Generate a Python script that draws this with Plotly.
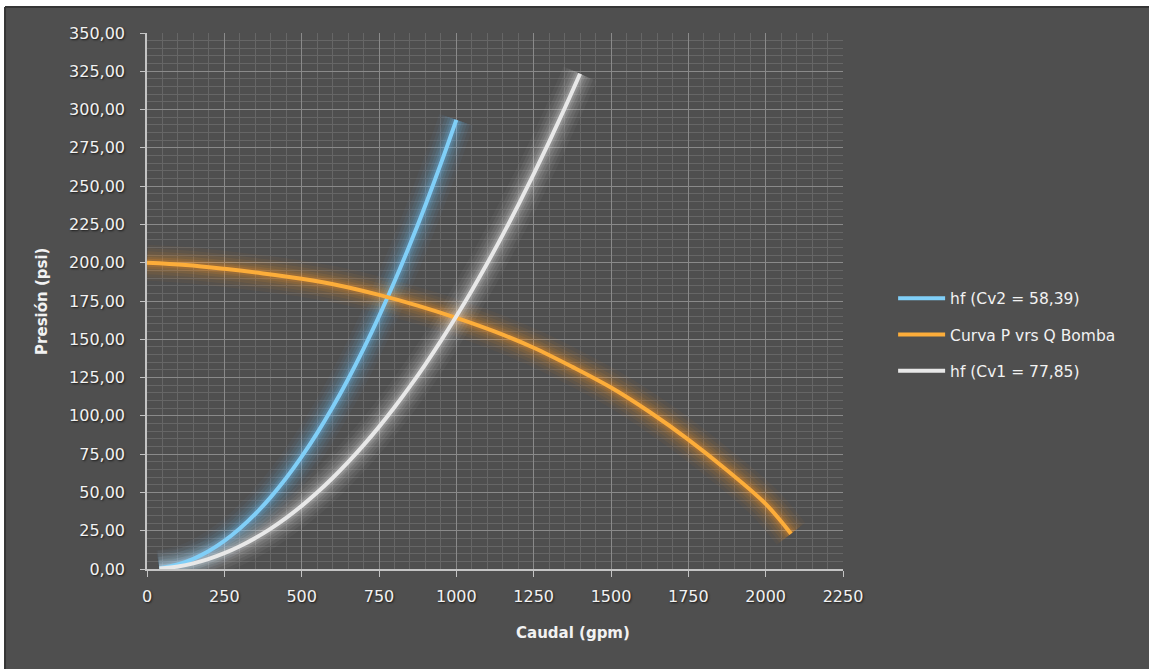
import plotly.graph_objects as go

# Data
q_cv2 = [40, 100, 150, 200, 250, 300, 350, 400, 450, 500, 550, 600, 650, 700, 750, 800, 850, 900, 950, 1000]
hf_cv2 = [0.47, 2.93, 6.60, 11.73, 18.33, 26.40, 35.93, 46.93, 59.40, 73.33, 88.72, 105.59, 123.92,
          143.72, 164.98, 187.71, 211.91, 237.58, 264.71, 293.31]

q_pump = [0, 125, 250, 375, 500, 625, 750, 875, 1000, 1125, 1250, 1375, 1500, 1625, 1750, 1875, 2000, 2082]
p_pump = [200.0, 198.5, 196.0, 193.0, 189.5, 185.0, 179.0, 172.0, 164.0, 155.0, 144.5, 132.0, 118.5,
          102.5, 84.5, 64.5, 42.5, 23.0]

q_cv1 = [40, 100, 150, 200, 250, 300, 350, 400, 450, 500, 550, 600, 650, 700, 750, 800, 850, 900, 950,
         1000, 1050, 1100, 1150, 1200, 1250, 1300, 1350, 1400]
hf_cv1 = [0.26, 1.65, 3.71, 6.60, 10.31, 14.85, 20.21, 26.40, 33.41, 41.25, 49.91, 59.40, 69.71, 80.85,
          92.81, 105.60, 119.21, 133.65, 148.91, 165.00, 181.91, 199.65, 218.21, 237.60, 257.81, 278.85,
          300.71, 323.40]

series = [
    ("hf (Cv2 = 58,39)", q_cv2, hf_cv2, "#80cff8", (110, 195, 255)),
    ("Curva P vrs Q Bomba", q_pump, p_pump, "#fcad3a", (255, 150, 30)),
    ("hf (Cv1 = 77,85)", q_cv1, hf_cv1, "#e8e8e8", (230, 230, 230)),
]

x_title = "Caudal (gpm)"
y_title = "Presión (psi)"

BG = "#4f4f4f"
TXT = "#f2f2f2"
fig = go.Figure()

# soft glow layers
for name, xs, ys, col, rgb in series:
    for w, a in [(36, 0.045), (29, 0.06), (23, 0.075), (17, 0.09), (12, 0.12), (8, 0.16)]:
        fig.add_trace(go.Scatter(
            x=xs, y=ys, mode="lines",
            line=dict(color=f"rgba({rgb[0]},{rgb[1]},{rgb[2]},{a})", width=w, shape="spline"),
            showlegend=False, hoverinfo="skip"))

for i, (name, xs, ys, col, rgb) in enumerate(series):
    fig.add_trace(go.Scatter(
        x=xs, y=ys, mode="lines", name=name, legendgroup=f"g{i}",
        line=dict(color=col, width=4, shape="spline")))

tickfont = dict(family="DejaVu Sans", size=16, color=TXT, shadow="1px 1px 2px #1a1a1a")
titlefont = dict(family="DejaVu Sans", size=15, color=TXT, weight="bold")

fig.update_layout(
    width=1149, height=669,
    margin=dict(l=147, r=306, t=33, b=100),
    paper_bgcolor="white",
    plot_bgcolor=BG,
    separators=", ",
    showlegend=True,
    legend=dict(x=1.072, y=0.437, xanchor="left", yanchor="middle", itemwidth=47,
                font=dict(family="DejaVu Sans", size=15.5, color=TXT),
                tracegroupgap=13, bgcolor="rgba(0,0,0,0)"),
    xaxis=dict(range=[0, 2250], dtick=250, tick0=0, tickformat="d",
               showgrid=True, gridcolor="#8a8a8a", gridwidth=1,
               minor=dict(dtick=50, showgrid=True, gridcolor="#666666", gridwidth=1),
               showline=True, linecolor="#c4c4c4", linewidth=1.5,
               ticks="outside", ticklen=6, tickcolor="#c4c4c4", ticklabelstandoff=6,
               tickfont=tickfont, zeroline=False),
    yaxis=dict(range=[0, 350], dtick=25, tick0=0, tickformat=".2f",
               showgrid=True, gridcolor="#8a8a8a", gridwidth=1,
               minor=dict(dtick=5, showgrid=True, gridcolor="#666666", gridwidth=1),
               showline=True, linecolor="#c4c4c4", linewidth=1.5,
               ticks="outside", ticklen=5, tickcolor="#c4c4c4", ticklabelstandoff=12,
               tickfont=tickfont, zeroline=False),
    shapes=[
        dict(type="rect", xref="paper", yref="paper", x0=-0.204, x1=1.7, y0=-0.35, y1=1.0485,
             fillcolor=BG, line=dict(width=0), layer="below"),
        dict(type="line", xref="paper", yref="paper", x0=-0.204, x1=1.7, y0=1.0485, y1=1.0485,
             line=dict(color="#353535", width=2), layer="below"),
        dict(type="line", xref="paper", yref="paper", x0=-0.204, x1=-0.204, y0=-0.35, y1=1.0485,
             line=dict(color="#353535", width=2), layer="below"),
    ],
    annotations=[
        dict(text=x_title, xref="paper", yref="paper", x=0.697, y=-0.119, xanchor="right",
             yanchor="middle", showarrow=False, font=titlefont),
        dict(text=y_title, xref="paper", yref="paper", x=-0.151, y=0.5, xanchor="center",
             yanchor="middle", textangle=-90, showarrow=False, font=titlefont),
    ],
)

fig.write_html("out.html", config={"displayModeBar": False},
               post_script="document.body.style.margin='0';document.body.style.overflow='hidden';")
